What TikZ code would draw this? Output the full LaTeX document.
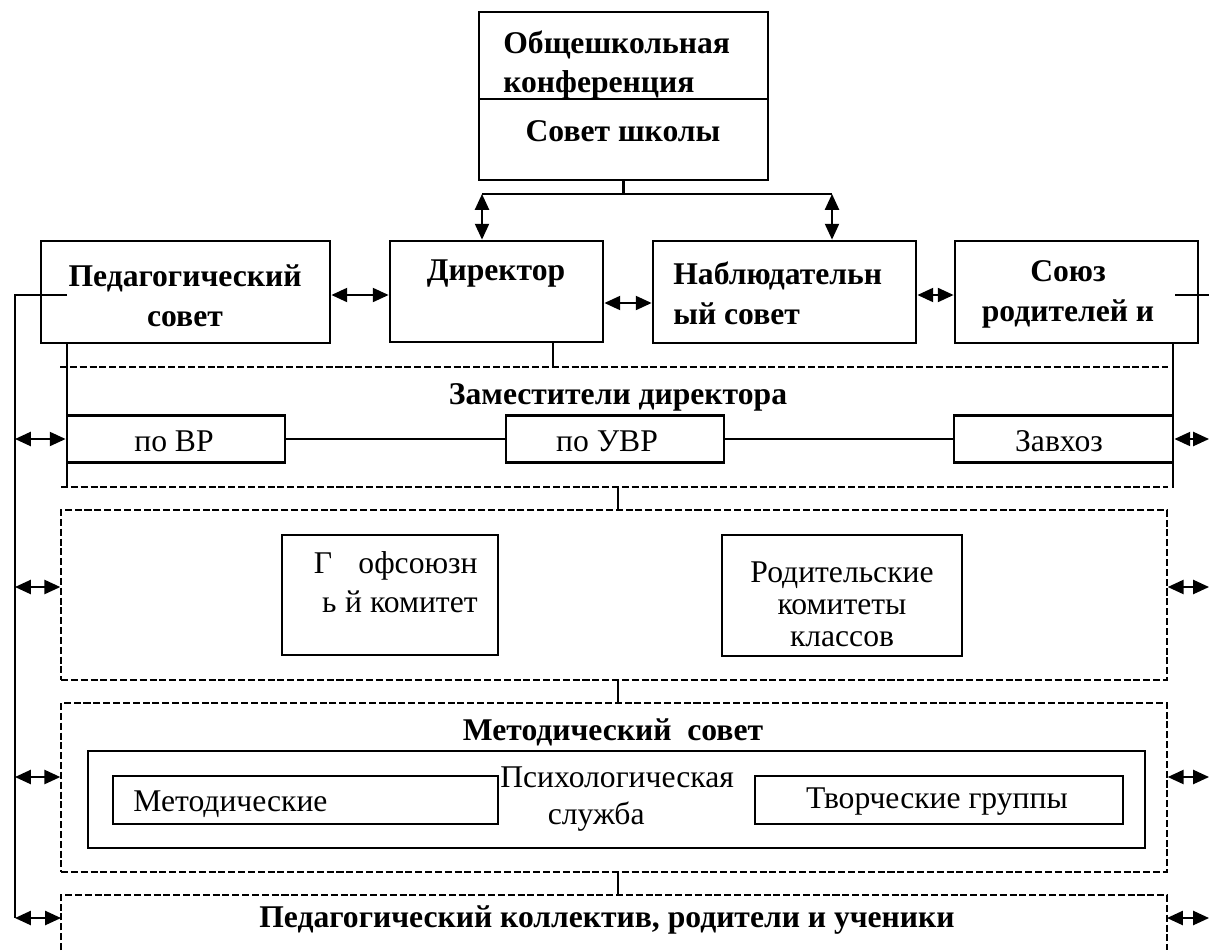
\documentclass[tikz,border=0pt]{standalone}
\usepackage{fontspec}
\setmainfont{Liberation Serif}
\usetikzlibrary{arrows.meta,fit}
\newcommand\fsz[1]{\fontsize{18}{#1}\selectfont}
\begin{document}
\begin{tikzpicture}[x=0.02cm,y=-0.02cm,
  box/.style={draw, line width=1.6pt, inner sep=0pt},
  sect/.style={draw, line width=0.8pt, dash pattern=on 4pt off 1.6pt, inner sep=0pt},
  conn/.style={line width=1.3pt},
  dsh/.style={line width=0.8pt, dash pattern=on 4pt off 1.6pt},
  biarrow/.style={line width=1.1pt, {Triangle[length=9pt,width=8pt]}-{Triangle[length=9pt,width=8pt]}},
  txt/.style={inner sep=0pt, font=\fsz{22pt}},
  btxt/.style={inner sep=0pt, font=\fsz{22.7pt}\bfseries},
  one/.style={text height=12.6pt, text depth=4pt},
]
\useasboundingbox (0,0) rectangle (1209,950);

% top block
\node[box, fit={(479,12)(768,99)}] (conf) {};
\node[box, fit={(479,99)(768,180)}] (sovet) {};
\node[btxt, align=left, anchor=west] (tconf) at (503,65) {Общешкольная\\конференция};
\node[btxt, one] (tsovet) at (623,134) {Совет школы};

% row of four
\node[box, fit={(41,241)(330,343)}] (ped) {};
\node[box, fit={(390,241)(603,342)}] (dir) {};
\node[box, fit={(653,241)(916,343)}] (nabl) {};
\node[box, fit={(955,241)(1198,343)}] (soyuz) {};
\node[btxt, align=center] (tped) at (185,296) {Педагогический\\совет};
\node[btxt, one] (tdir) at (496,273) {Директор};
\node[btxt, align=left, anchor=west] (tnabl) at (673,293) {Наблюдательн\\ый совет};
\node[btxt, align=center] (tsoyuz) at (1068,294) {Союз\\родителей и};

% connectors from top block
\coordinate (jl) at (482,194);
\coordinate (jr) at (832,194);
\draw[conn] (sovet.south) -- (sovet.south |- jl);
\draw[conn] (jl) -- (jr);
\draw[biarrow] (jl) -- (jl |- dir.north);
\draw[biarrow] (jr) -- (jr |- nabl.north);

\coordinate (ya) at (0,295);
\coordinate (yb) at (0,303);
\draw[biarrow] (ped.east |- ya) -- (dir.west |- ya);
\draw[biarrow] (dir.east |- yb) -- (nabl.west |- yb);
\draw[biarrow] (nabl.east |- ya) -- (soyuz.west |- ya);

% buses
\coordinate (pin) at (67,295);
\coordinate (busT) at (15,295);
\coordinate (busB) at (15,918);
\draw[conn] (pin) -- (busT) -- (busB);
\coordinate (sin) at (1175,295);
\coordinate (rb) at (1209,295);
\draw[conn] (sin) -- (rb);

% section 1: deputies
\coordinate (lv) at (67,488);
\coordinate (rv) at (1173,488);
\coordinate (dstem) at (553,367);
\draw[conn] (ped.south -| lv) -- (lv);
\draw[conn] (soyuz.south -| rv) -- (rv);
\draw[conn] (dir.south -| dstem) -- (dstem);
\coordinate (d1l) at (60,367);
\coordinate (d1r) at (1168,367);
\coordinate (d2l) at (61,487);
\coordinate (d2r) at (1168,487);
\draw[dsh] (d1l) -- (d1r);
\draw[dsh] (d2l) -- (d2r);
\node[btxt, one] (zam) at (618,397) {Заместители директора};
\node[box, fit={(67,415.5)(285,462.5)}] (vr) {};
\node[box, fit={(506,415.5)(724,462.5)}] (uvr) {};
\node[box, fit={(954,415.5)(1173,462.5)}] (zav) {};
\node[txt, one] (tvr) at (174,444) {по ВР};
\node[txt, one] (tuvr) at (607,444) {по УВР};
\node[txt, one] (tzav) at (1059,444) {Завхоз};
\draw[conn] (vr.east) -- (uvr.west);
\draw[conn] (uvr.east) -- (zav.west);
\draw[biarrow] (busT |- vr.west) -- (vr.west);
\draw[biarrow] (zav.east) -- (rb |- zav.east);

% section 2
\coordinate (s1b) at (618,487);
\node[sect, fit={(61,510)(1167,680)}] (sec2) {};
\draw[conn] (s1b) -- (s1b |- sec2.north);
\node[box, fit={(282,535)(498,655)}] (prof) {};
\node[box, fit={(722,535)(962,656)}] (rodk) {};
\node[txt, align=right, anchor=east] (tprof) at (478,582) {Г\hspace{15pt}офсоюзн\\ь\hspace{5pt}й комитет};
\node[txt, font=\fsz{18.2pt}, align=center] (trodk) at (842,604) {Родительские\\комитеты\\классов};
\coordinate (yd) at (0,587);
\draw[biarrow] (busT |- yd) -- (sec2.west |- yd);
\draw[biarrow] (sec2.east |- yd) -- (rb |- yd);

% section 3
\node[sect, fit={(61,703)(1167,872)}] (sec3) {};
\draw[conn] (sec2.south -| s1b) -- (sec3.north -| s1b);
\node[btxt, one] (msov) at (613,733) {Методический\hspace{9pt}совет};
\node[draw, line width=1.3pt, inner sep=0pt, fit={(88,751)(1145,848)}] (mbig) {};
\node[box, fit={(113,776)(498,824)}] (metod) {};
\node[txt, one, anchor=west] (tmetod) at (133,804) {Методические};
\node[txt, font=\fsz{21pt}, align=left, anchor=west] (psy) at (500,799) {Психологическая\\\hspace*{27pt}служба};
\node[box, fit={(755,776)(1123,824)}] (tvor) {};
\node[txt, one] (ttvor) at (937,801) {Творческие группы};
\coordinate (ye) at (0,777);
\draw[biarrow] (busT |- ye) -- (sec3.west |- ye);
\draw[biarrow] (sec3.east |- ye) -- (rb |- ye);

% section 4
\coordinate (s4tl) at (61,895);
\coordinate (s4tr) at (1167,895);
\coordinate (s4bl) at (61,950);
\coordinate (s4br) at (1167,950);
\draw[dsh] (s4bl) -- (s4tl) -- (s4tr) -- (s4br);
\draw[conn] (sec3.south -| s1b) -- (s4tl -| s1b);
\node[btxt, one] (tall) at (607,920) {Педагогический коллектив, родители и ученики};
\draw[biarrow] (busB) -- (s4tl |- busB);
\draw[biarrow] (s4tr |- busB) -- (rb |- busB);
\end{tikzpicture}
\end{document}
